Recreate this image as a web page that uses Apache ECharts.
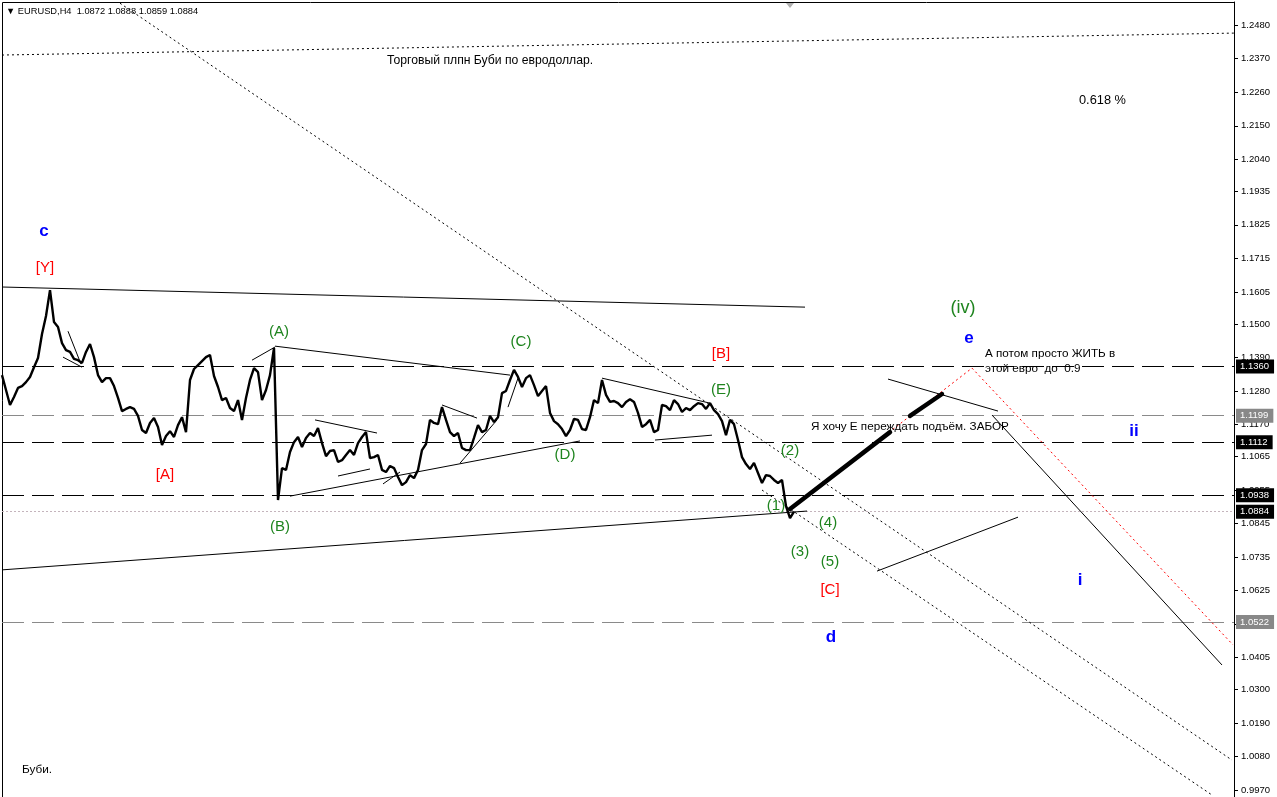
<!DOCTYPE html>
<html>
<head>
<meta charset="utf-8">
<script src="https://cdn.jsdelivr.net/npm/echarts@6/dist/echarts.min.js"></script>
<style>
html,body{margin:0;padding:0;background:#fff;}
#chart{width:1277px;height:797px;}
</style>
</head>
<body>
<div id="chart"></div>
<script>
// ---------- DATA ----------
// EURUSD H4 close path, one value per sampled bar (bar index = position in array)
const PRICE = [
1.1332,1.1283,1.1234,1.1260,1.1290,1.1296,1.1309,1.1326,1.1358,1.1388,
1.1467,1.1526,1.1611,1.1506,1.1490,1.1437,1.1414,1.1408,1.1385,1.1381,
1.1372,1.1408,1.1434,1.1391,1.1332,1.1309,1.1322,1.1322,1.1296,1.1257,
1.1214,1.1221,1.1227,1.1221,1.1198,1.1152,1.1142,1.1175,1.1191,1.1162,
1.1103,1.1132,1.1148,1.1129,1.1168,1.1194,1.1145,1.1316,1.1352,1.1365,
1.1378,1.1391,1.1398,1.1329,1.1293,1.1250,1.1257,1.1224,1.1214,1.1250,
1.1185,1.1257,1.1316,1.1355,1.1342,1.1250,1.1283,1.1332,1.1421,1.0922,
1.1027,1.1021,1.1080,1.1112,1.1129,1.1096,1.1126,1.1142,1.1132,1.1158,
1.1109,1.1066,1.1083,1.1086,1.1047,1.1053,1.1070,1.1086,1.1070,1.1109,
1.1129,1.1145,1.1060,1.1063,1.1070,1.1021,1.1014,1.1034,1.1027,1.0998,
1.0971,1.0981,1.1004,1.0994,1.1021,1.1086,1.1106,1.1185,1.1175,1.1171,
1.1227,1.1185,1.1145,1.1132,1.1142,1.1093,1.1086,1.1086,1.1126,1.1168,
1.1145,1.1152,1.1198,1.1178,1.1194,1.1273,1.1280,1.1316,1.1349,1.1326,
1.1293,1.1322,1.1332,1.1299,1.1263,1.1280,1.1296,1.1208,1.1181,1.1171,
1.1155,1.1132,1.1152,1.1188,1.1185,1.1155,1.1152,1.1194,1.1250,1.1240,
1.1316,1.1267,1.1244,1.1247,1.1240,1.1227,1.1244,1.1253,1.1244,1.1208,
1.1162,1.1171,1.1185,1.1145,1.1152,1.1234,1.1230,1.1217,1.1250,1.1237,
1.1211,1.1224,1.1217,1.1230,1.1240,1.1237,1.1221,1.1240,1.1217,1.1204,
1.1181,1.1135,1.1185,1.1171,1.1119,1.1063,1.1040,1.1024,1.1044,1.1011,
1.0978,1.1004,1.1001,1.0988,1.0978,1.0988,1.0902,1.0863,1.0884
];

// price-scale tick labels
const Y_TICKS = [1.2480,1.2370,1.2260,1.2150,1.2040,1.1935,1.1825,1.1715,1.1605,1.1500,
  1.1390,1.1280,1.1170,1.1065,1.0955,1.0845,1.0735,1.0625,1.0515,1.0405,1.0300,1.0190,1.0080,0.9970];

// horizontal levels
const LEVELS_BLACK = [1.1360, 1.1112, 1.0938];
const LEVELS_GRAY = [1.1199, 1.0522];
const BID_LEVEL = 1.0884;

// trend lines: [barStart, priceStart, barEnd, priceEnd]
const LINES_DOTTED = [
  [0, 1.2382, 308, 1.2454],
  [29.5, 1.2552, 307.5, 1.0069],
  [190, 1.0955, 302.5, 0.99545]
];
const LINES_SOLID = [
  [0, 1.1621, 200.75, 1.1555],
  [0, 1.0693, 201.25, 1.0886],
  [68.25, 1.1427, 127, 1.1332],
  [72, 1.0935, 144.5, 1.1116],
  [16.5, 1.1476, 19.75, 1.1368],
  [15.25, 1.1391, 20, 1.1358],
  [62.5, 1.1381, 68.25, 1.1424],
  [78.25, 1.1185, 93.75, 1.1142],
  [84, 1.1001, 92, 1.1024],
  [95.25, 1.0975, 99.5, 1.1014],
  [110, 1.1234, 118.75, 1.1191],
  [114.5, 1.1043, 123.75, 1.1185],
  [126.5, 1.1227, 129, 1.1322],
  [150, 1.1322, 177, 1.1240],
  [163.25, 1.1119, 177.5, 1.1135],
  [221.5, 1.1319, 249, 1.1214],
  [247.5, 1.1201, 305, 1.0381],
  [218.75, 1.0689, 254, 1.0866]
];
const LINES_THICK = [
  [197, 1.0893, 222, 1.1145],
  [227, 1.1198, 235, 1.1270]
];
const LINES_RED_DOTTED = [
  [197, 1.0893, 242.5, 1.1355],
  [242.5, 1.1355, 307.75, 1.0447]
];

// wave labels: [text, bar, price]
const LABELS_GREEN = [
  ['(A)', 69.25, 1.1473], ['(B)', 69.5, 1.0834], ['(C)', 129.75, 1.1440],
  ['(D)', 140.75, 1.1070], ['(E)', 179.75, 1.1283], ['(2)', 197, 1.1083],
  ['(1)', 193.5, 1.0902], ['(4)', 206.5, 1.0847], ['(3)', 199.5, 1.0752],
  ['(5)', 207, 1.0719]
];
const LABELS_GREEN_BIG = [['(iv)', 240.25, 1.1552]];
const LABELS_RED = [
  ['[Y]', 10.75, 1.1683], ['[A]', 40.75, 1.1004], ['[B]', 179.75, 1.1401], ['[C]', 207, 1.0627]
];
const LABELS_BLUE = [
  ['c', 10.5, 1.1804], ['d', 207.25, 1.0473], ['e', 241.75, 1.1454],
  ['ii', 283, 1.1148], ['i', 269.5, 1.0660]
];
const NOTES = [
  ['А потом просто ЖИТЬ в', 245.75, 1.1401],
  ['этой евро  до  0.9', 245.75, 1.1352],
  ['Я хочу Е переждать подъём. ЗАБОР', 202.25, 1.1162]
];

const HEADER = '▼ EURUSD,H4  1.0872 1.0888 1.0859 1.0884';
const TITLE = 'Торговый плпн Буби по евродоллар.';
const FIB_NOTE = '0.618 %';
const SIGNATURE = 'Буби.';

// ---------- CHART ----------
const chart = echarts.init(document.getElementById('chart'), null, {renderer: 'canvas'});
const FONT = 'Liberation Sans, Arial, sans-serif';
const X_MIN = 0, X_MAX = 308;

function seg(list, style) {
  return list.map(s => ({coords: [[s[0], s[1]], [s[2], s[3]]], lineStyle: Object.assign({opacity: 1}, style)}));
}
function levelSeg(values, style) {
  return values.map(v => ({coords: [[X_MIN, v], [X_MAX, v]], lineStyle: Object.assign({opacity: 1}, style)}));
}
function labelSeries(list, color, size, align, weight) {
  return {
    type: 'scatter', symbolSize: 0, silent: true, z: 20,
    itemStyle: {opacity: 1},
    data: list.map(l => ({name: l[0], value: [l[1], l[2]]})),
    label: {
      show: true, position: 'inside', formatter: p => p.name, opacity: 1,
      color: color, fontSize: size, fontFamily: FONT, fontWeight: weight || 'normal',
      align: align || 'center', verticalAlign: 'middle'
    }
  };
}
function tagSeries(values, bg) {
  return {
    type: 'scatter', symbolSize: 0, silent: true, z: 30, clip: false,
    itemStyle: {opacity: 1},
    data: values.map(v => [X_MAX, v]),
    label: {
      show: true, position: 'right', distance: 2, opacity: 1,
      formatter: p => p.value[1].toFixed(4), color: '#fff', backgroundColor: bg,
      padding: [2, 5, 2, 4], fontSize: 9.5, fontFamily: FONT
    }
  };
}

const option = {
  backgroundColor: '#fff',
  animation: false,
  grid: {left: 2, right: 43, top: 2, bottom: 2, show: false},
  xAxis: {type: 'value', min: X_MIN, max: X_MAX, show: false},
  yAxis: {
    type: 'value', position: 'right', min: 0.99545, max: 1.2556,
    splitLine: {show: false},
    axisLine: {show: true, onZero: false, lineStyle: {color: '#000'}},
    axisTick: {show: true, inside: false, customValues: Y_TICKS, length: 4, lineStyle: {color: '#000'}},
    axisLabel: {customValues: Y_TICKS, formatter: v => v.toFixed(4), color: '#000',
      fontSize: 9.5, fontFamily: FONT, margin: 7}
  },
  graphic: [
    {type: 'rect', shape: {x: 2.5, y: 2.5, width: 1232, height: 800}, style: {fill: null, stroke: '#000', lineWidth: 1}, silent: true},
    {type: 'text', left: 6, top: 7, style: {text: HEADER, fill: '#000', font: '9.3px ' + FONT}},
    {type: 'text', left: 387, top: 55, style: {text: TITLE, fill: '#000', font: '12.2px ' + FONT}},
    {type: 'text', left: 1079, top: 94, style: {text: FIB_NOTE, fill: '#000', font: '12.8px ' + FONT}},
    {type: 'text', left: 22, top: 764, style: {text: SIGNATURE, fill: '#000', font: '11.8px ' + FONT}},
    {type: 'polygon', shape: {points: [[786, 3], [794, 3], [790, 8]]}, style: {fill: '#b0b0b0'}}
  ],
  series: [
    {
      type: 'lines', coordinateSystem: 'cartesian2d', silent: true, z: 1,
      data: [
        ...levelSeg(LEVELS_BLACK, {color: '#000', width: 1, type: [22, 8]}),
        ...levelSeg(LEVELS_GRAY, {color: '#8a8a8a', width: 1, type: [22, 8]}),
        ...levelSeg([BID_LEVEL], {color: '#c4b4bc', width: 1, type: [2, 2]})
      ]
    },
    {
      type: 'lines', coordinateSystem: 'cartesian2d', silent: true, z: 3, clip: true,
      data: [
        ...seg(LINES_DOTTED, {color: '#000', width: 1, type: [2, 3]}),
        ...seg(LINES_RED_DOTTED, {color: '#ff0000', width: 1, type: [2, 3]}),
        ...seg(LINES_SOLID, {color: '#000', width: 1, type: 'solid'})
      ]
    },
    {
      type: 'line', silent: true, showSymbol: false, z: 5,
      data: PRICE.map((p, i) => [i, p]),
      lineStyle: {color: '#000', width: 2.4},
      clip: true
    },
    {
      type: 'lines', coordinateSystem: 'cartesian2d', silent: true, z: 6,
      data: seg(LINES_THICK, {color: '#000', width: 4.5, type: 'solid', cap: 'round'})
    },
    labelSeries(LABELS_GREEN, '#1e841e', 15),
    labelSeries(LABELS_GREEN_BIG, '#1e841e', 18),
    labelSeries(LABELS_RED, '#ff0000', 15),
    labelSeries(LABELS_BLUE, '#0000ff', 17, 'center', 'bold'),
    labelSeries(NOTES, '#000', 11.7, 'left'),
    tagSeries([...LEVELS_BLACK, BID_LEVEL], '#000'),
    tagSeries(LEVELS_GRAY, '#888888')
  ]
};
chart.setOption(option);
</script>
</body>
</html>
